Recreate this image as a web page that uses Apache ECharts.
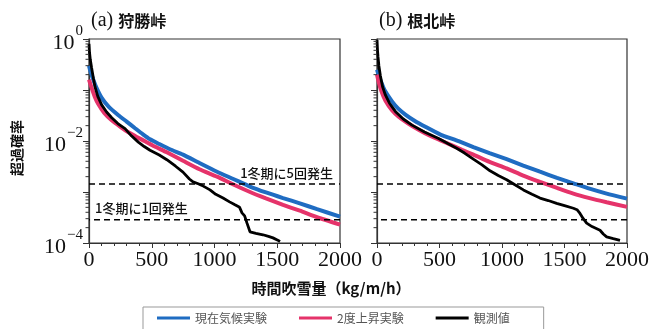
<!DOCTYPE html>
<html><head><meta charset="utf-8">
<script src="https://cdn.jsdelivr.net/npm/echarts@6/dist/echarts.min.js"></script>
<style>html,body{margin:0;padding:0;background:#fff}#c{width:662px;height:329px}</style>
</head><body><div id="c"></div>
<script>
// ---- data ----
const panelTitles = ['狩勝峠', '根北峠'];
const panelTags = ['(a)', '(b)'];
const seriesNames = ['現在気候実験', '2度上昇実験', '観測値'];
const xTicks = [0, 500, 1000, 1500, 2000];
const yLabelExps = [0, -2, -4];
const yMinorTicks = [2e-4,3e-4,4e-4,5e-4,6e-4,7e-4,8e-4,9e-4,2e-3,3e-3,4e-3,5e-3,6e-3,7e-3,8e-3,9e-3,2e-2,3e-2,4e-2,5e-2,6e-2,7e-2,8e-2,9e-2,0.2,0.3,0.4,0.5,0.6,0.7,0.8,0.9];
const thresholds = [1.43e-3, 2.86e-4];
const thresholdLabels = ['1冬期に5回発生', '1冬期に1回発生'];
const xTitle = '時間吹雪量（kg/m/h）';
const yTitle = '超過確率';

// panel (a) 狩勝峠 : [snowdrift kg/m/h, exceedance probability]
const aCurrent = [[0,0.3],[10,0.24],[34,0.16],[60,0.11],[101,0.07],[160,0.046],[234,0.032],[300,0.024],[367,0.0178],[430,0.0135],[486,0.0108],[560,0.0087],[649,0.0068],[749,0.0054],[880,0.0037],[1020,0.0025],[1150,0.0018],[1283,0.00128],[1410,0.00098],[1546,0.00076],[1680,0.0006],[1817,0.00046],[2000,0.00033]];
const aWarm = [[0,0.16],[21,0.11],[45,0.075],[74,0.053],[120,0.036],[181,0.0255],[250,0.019],[314,0.0148],[380,0.012],[446,0.0099],[520,0.0079],[620,0.006],[749,0.0041],[880,0.0028],[1020,0.002],[1150,0.0014],[1283,0.001],[1410,0.00075],[1546,0.00056],[1680,0.00043],[1817,0.00032],[2000,0.00023]];
const aObs = [[0,0.8],[4,0.55],[10,0.4],[21,0.27],[35,0.17],[48,0.115],[70,0.075],[101,0.051],[140,0.037],[181,0.0285],[230,0.022],[287,0.0175],[340,0.0125],[393,0.0095],[440,0.0078],[486,0.0066],[560,0.0053],[620,0.0043],[690,0.0032],[749,0.00245],[800,0.0018],[829,0.00158],[870,0.00145],[900,0.00135],[964,0.0011],[1010,0.0009],[1068,0.00076],[1120,0.00064],[1163,0.00056],[1200,0.0005],[1219,0.00039],[1240,0.00034],[1259,0.000245],[1283,0.000166],[1330,0.000155],[1386,0.000145],[1430,0.000135],[1466,0.000126],[1500,0.000115],[1522,0.000107]];

// panel (b) 根北峠
const bCurrent = [[0,0.25],[15,0.19],[30,0.15],[60,0.1],[120,0.06],[170,0.043],[227,0.033],[300,0.025],[387,0.019],[504,0.0135],[653,0.0099],[771,0.0076],[900,0.0058],[1037,0.0044],[1170,0.0033],[1304,0.0025],[1440,0.0019],[1571,0.00148],[1700,0.00116],[1837,0.00093],[2000,0.00074]];
const bWarm = [[0,0.2],[13,0.145],[35,0.095],[67,0.062],[120,0.04],[173,0.03],[250,0.022],[333,0.0166],[420,0.0128],[504,0.0104],[600,0.0082],[680,0.0067],[771,0.0054],[900,0.0039],[1037,0.0029],[1170,0.0021],[1304,0.00158],[1440,0.0012],[1571,0.00093],[1700,0.00076],[1837,0.00063],[2000,0.00051]];
const bObs = [[0,0.95],[4,0.6],[8,0.45],[15,0.3],[27,0.19],[45,0.115],[67,0.08],[100,0.055],[147,0.038],[210,0.027],[280,0.0205],[380,0.015],[493,0.0112],[570,0.0088],[637,0.0072],[700,0.0058],[771,0.0044],[840,0.0034],[904,0.0026],[970,0.0021],[1037,0.00174],[1100,0.0014],[1171,0.0011],[1240,0.0009],[1304,0.00076],[1370,0.00068],[1437,0.0006],[1500,0.00054],[1571,0.00048],[1600,0.00045],[1624,0.00038],[1650,0.0003],[1677,0.000245],[1720,0.00021],[1784,0.000178],[1810,0.00015],[1837,0.000132],[1890,0.000122],[1944,0.000113]];

// ---- style ----
const COLORS = ['#1f6cc2', '#e5336a', '#000000'];
const WIDTHS = [4, 4, 2.8];
const serif = "'Liberation Serif', 'DejaVu Serif', serif";
const sans = "'Noto Sans CJK JP', 'Noto Sans', sans-serif";

function yFmt(v) {
  const e = Math.round(Math.log10(v));
  if (!yLabelExps.includes(e)) return '';
  return '{b|10}{s|' + (e === 0 ? '0' : '\u2212' + (-e)) + '}';
}

function xAxis(i) {
  return {
    type: 'value', gridIndex: i, min: xTicks[0], max: xTicks[xTicks.length - 1], interval: 500,
    axisLine: { show: true, lineStyle: { color: '#333', width: 1.2 } },
    axisTick: { show: true, length: 5, inside: false, lineStyle: { color: '#333' } },
    minorTick: { show: true, splitNumber: 5, length: 3, lineStyle: { color: '#333' } },
    splitLine: { show: false },
    axisLabel: { fontFamily: serif, fontSize: 22, color: '#111', margin: 6, hideOverlap: false, formatter: v => String(v) }
  };
}
function yAxis(i) {
  return {
    type: 'log', logBase: 10, gridIndex: i, min: 1e-4, max: 1,
    axisLine: { show: true, lineStyle: { color: '#333', width: 1.2 } },
    axisTick: { show: true, length: 6, lineStyle: { color: '#333' } },
    minorTick: { show: false },
    splitLine: { show: false },
    axisLabel: {
      show: i === 0, formatter: yFmt, margin: 6,
      rich: {
        b: { fontFamily: serif, fontSize: 22, color: '#111', lineHeight: 30, verticalAlign: 'bottom' },
        s: { fontFamily: serif, fontSize: 15, color: '#111', lineHeight: 30, verticalAlign: 'top', padding: [0,0,0,1] }
      }
    }
  };
}

const panelData = [[aCurrent, aWarm, aObs], [bCurrent, bWarm, bObs]];
const series = [];
panelData.forEach((arrs, p) => {
  arrs.forEach((d, k) => {
    series.push({
      name: seriesNames[k], type: 'line', xAxisIndex: p, yAxisIndex: p, data: d,
      showSymbol: false, smooth: k < 2 ? 0.2 : false, z: 2 + k,
      lineStyle: { color: COLORS[k], width: WIDTHS[k] }, itemStyle: { color: COLORS[k] }
    });
  });
  // threshold dashed lines (upper: label at right end, lower: label at left end)
  thresholds.forEach((t, j) => {
    const x0 = xTicks[0], x1 = xTicks[xTicks.length - 1];
    const pts = j === 0 ? [[x0, t], [x1, t]] : [[x1, t], [x0, t]];
    series.push({
      name: 'th' + p + j, type: 'line', xAxisIndex: p, yAxisIndex: p, z: 5,
      symbol: 'none', showSymbol: false, silent: true,
      lineStyle: { color: '#000', type: [6, 4], width: 1.5 },
      data: pts,
      endLabel: {
        show: p === 0, formatter: thresholdLabels[j], distance: 0,
        align: j === 0 ? 'right' : 'left', verticalAlign: 'bottom',
        offset: j === 0 ? [-7, -5] : [6, -5],
        fontFamily: sans, fontSize: 13, fontWeight: 500, color: '#111'
      }
    });
  });
  // log-spaced minor ticks on the y axis
  series.push({
    name: 'minor' + p, type: 'custom', xAxisIndex: p, yAxisIndex: p, clip: false, silent: true, z: 6,
    data: yMinorTicks.map(v => [xTicks[0], v]),
    renderItem: (params, api) => {
      const pt = api.coord([api.value(0), api.value(1)]);
      return { type: 'line', shape: { x1: pt[0] - 3.5, y1: pt[1], x2: pt[0], y2: pt[1] }, style: { stroke: '#333', lineWidth: 1 } };
    }
  });
});

const grids = [
  { left: 89, top: 39, width: 251, height: 204, show: true, borderColor: '#333', borderWidth: 1.2, backgroundColor: 'transparent' },
  { left: 377, top: 39, width: 250, height: 204, show: true, borderColor: '#333', borderWidth: 1.2, backgroundColor: 'transparent' }
];

const chart = echarts.init(document.getElementById('c'), null, { renderer: 'canvas' });
chart.setOption({
  animation: false,
  backgroundColor: '#fff',
  grid: grids,
  xAxis: [xAxis(0), xAxis(1)],
  yAxis: [yAxis(0), yAxis(1)],
  title: [0, 1].map(i => ({
    text: '{t|' + panelTags[i] + '} {n|' + panelTitles[i] + '}',
    left: i === 0 ? 86 : 374, top: 6,
    textStyle: { fontWeight: 'normal', rich: {
      t: { fontFamily: serif, fontSize: 20, fontWeight: 'normal', color: '#111' },
      n: { fontFamily: sans, fontSize: 16, fontWeight: 'bold', color: '#111' }
    } }
  })).concat([
    { text: xTitle, left: 'center', top: 276, textStyle: { fontFamily: sans, fontSize: 15, fontWeight: 'bold', color: '#111' } }
  ]),
  graphic: [{
    type: 'text', left: 10, top: 120, rotation: Math.PI / 2,
    style: { text: yTitle, font: "bold 14px 'Noto Sans CJK JP'", fill: '#111' }
  }],
  legend: {
    data: seriesNames, left: 143, top: 307, padding: [5, 34, 6, 14], itemGap: 32,
    itemWidth: 33, itemHeight: 3, icon: 'rect',
    borderColor: '#999', borderWidth: 1, borderRadius: 0,
    textStyle: { fontFamily: sans, fontSize: 12, color: '#555' }
  },
  series: series
});
</script></body></html>
